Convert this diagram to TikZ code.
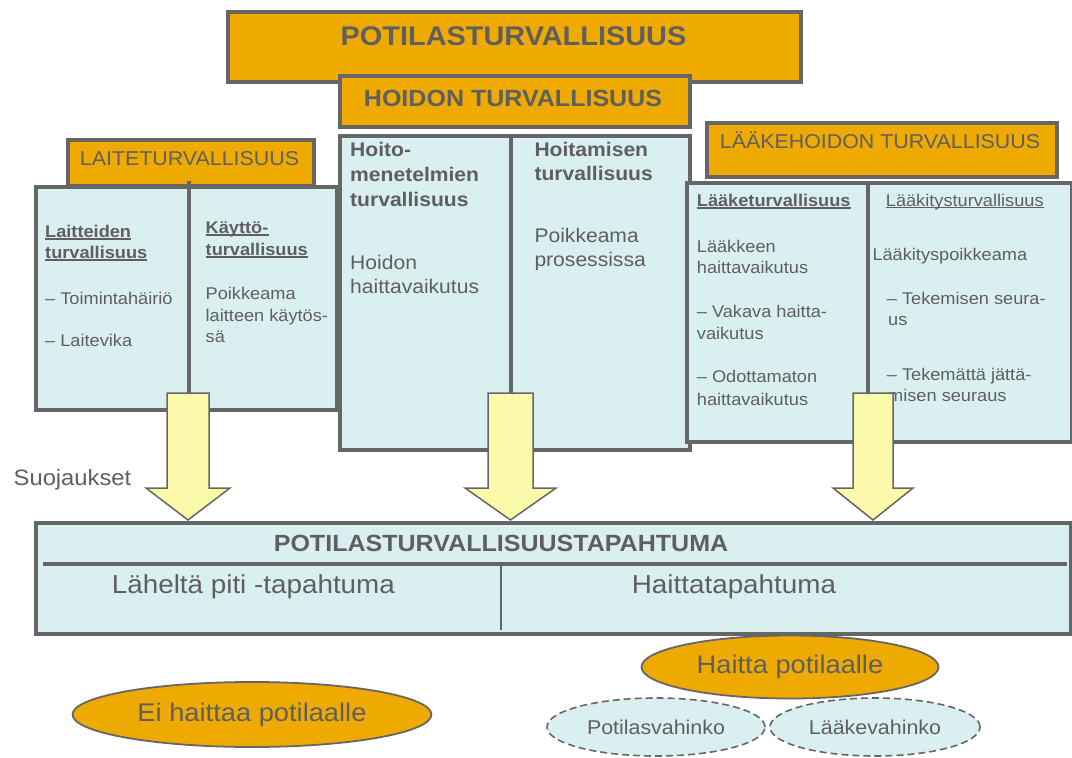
\documentclass[tikz,border=0pt]{standalone}
\usepackage{fontspec}
\setmainfont{Liberation Sans}[FakeStretch=1.07]
\usetikzlibrary{shapes.geometric}
\definecolor{myorange}{RGB}{238,170,0}
\definecolor{myblue}{RGB}{218,240,240}
\definecolor{myyellow}{RGB}{250,250,170}
\definecolor{bordergray}{RGB}{102,102,102}
\definecolor{textgray}{RGB}{95,95,95}
\newcommand\fsz[1]{\fontsize{#1}{#1}\selectfont}
\newcommand\barrow[3]{\draw[blockarrow] (#1) ++(-#2,0) -- ++({2*#2},0) -- ++(0,95) -- ++({#3-#2},0) -- ++(-#3,32) -- ++(-#3,-32) -- ++({#3-#2},0) -- cycle;}
\begin{document}
\begin{tikzpicture}[x=1pt,y=-1pt,
  obox/.style={draw=bordergray, line width=4pt, fill=myorange, inner sep=0, rectangle, anchor=north west},
  bbox/.style={draw=bordergray, line width=4pt, fill=myblue, inner sep=0, rectangle, anchor=north west},
  divider/.style={draw=bordergray, line width=4pt},
  txt/.style={inner sep=0, text=textgray, anchor=base west},
  ctxt/.style={inner sep=0, text=textgray, anchor=base},
  lb/.style={txt, font=\fsz{17}},
  lbb/.style={txt, font=\fsz{17}\bfseries},
  mb/.style={txt, font=\fsz{19.7}},
  mbb/.style={txt, font=\fsz{19.7}\bfseries},
  ul/.style={draw=textgray, line width=1.6pt},
  blockarrow/.style={draw=bordergray, line width=1.5pt, fill=myyellow, line join=miter},
  oell/.style={ellipse, draw=bordergray, line width=1.8pt, fill=myorange, inner sep=0, text=textgray, font=\fsz{25.5}},
  dell/.style={ellipse, draw=bordergray, line width=1.6pt, dash pattern=on 7pt off 4pt, fill=myblue, inner sep=0, text=textgray, font=\fsz{20}}
]
\useasboundingbox (0,0) rectangle (1072,758);
\fill[white] (0,0) rectangle (1072,758);

% top orange boxes
\node[obox, minimum width=573pt, minimum height=70pt] (potbox) at (226,10) {};
\node[ctxt, font=\fsz{27}\bfseries] (tpot) at (513.5,45) {POTILASTURVALLISUUS};
\node[obox, minimum width=350pt, minimum height=51pt] (hoibox) at (338,74) {};
\node[ctxt, font=\fsz{23.4}\bfseries] (thoi) at (513,106) {HOIDON TURVALLISUUS};
\node[obox, minimum width=246pt, minimum height=46pt] (laibox) at (66,138) {};
\node[ctxt, font=\fsz{20}] (tlai) at (189.5,165) {LAITETURVALLISUUS};

% left blue box
\node[bbox, minimum width=301pt, minimum height=223pt] (lbox) at (34,185) {};
\coordinate (ldivtop) at (189.3,181);
\coordinate (ldivbot) at (189.3,408);
\draw[divider] (ldivtop) -- (ldivbot);
\node[lbb] (l1) at (45,237) {Laitteiden};
\node[lbb] (l2) at (45,258) {turvallisuus};
\draw[ul] ([yshift=-2pt]l1.base west) -- ([yshift=-2pt]l1.base east);
\draw[ul] ([yshift=-2pt]l2.base west) -- ([yshift=-2pt]l2.base east);
\node[lb] (l3) at (45,304) {– Toimintahäiriö};
\node[lb] (l4) at (45,346.5) {– Laitevika};
\node[lbb] (l5) at (205.5,233) {Käyttö-};
\node[lbb] (l6) at (205.5,255) {turvallisuus};
\draw[ul] ([yshift=-2pt]l5.base west) -- ([yshift=-2pt]l5.base east);
\draw[ul] ([yshift=-2pt]l6.base west) -- ([yshift=-2pt]l6.base east);
\node[lb] (l7) at (205.5,299.3) {Poikkeama};
\node[lb] (l8) at (205.5,321) {laitteen käytös-};
\node[lb] (l9) at (205.5,342.7) {sä};

% middle blue box
\node[bbox, minimum width=350pt, minimum height=314pt] (mbox) at (338,134) {};
\coordinate (mdivtop) at (511,134);
\coordinate (mdivbot) at (511,448);
\draw[divider] (mdivtop) -- (mdivbot);
\node[mbb] (m1) at (350,156) {Hoito-};
\node[mbb] (m2) at (350,181.5) {menetelmien};
\node[mbb] (m3) at (350,206.7) {turvallisuus};
\node[mb] (m4) at (350,269) {Hoidon};
\node[mb] (m5) at (350,293.3) {haittavaikutus};
\node[mbb] (m6) at (534.3,156) {Hoitamisen};
\node[mbb] (m7) at (534.3,180.7) {turvallisuus};
\node[mb] (m8) at (534.3,242.7) {Poikkeama};
\node[mb] (m9) at (534.3,266.7) {prosessissa};

% right part
\node[obox, minimum width=350pt, minimum height=54pt] (laabox) at (705.3,121.3) {};
\node[ctxt, font=\fsz{20}] (tlaa) at (880,148) {LÄÄKEHOIDON TURVALLISUUS};
\node[bbox, minimum width=385pt, minimum height=259pt] (rbox) at (684.7,181) {};
\coordinate (rdivtop) at (868.3,181);
\coordinate (rdivbot) at (868.3,440);
\draw[divider] (rdivtop) -- (rdivbot);
\node[lbb] (r1) at (696.7,206) {Lääketurvallisuus};
\draw[ul] ([yshift=-2pt]r1.base west) -- ([yshift=-2pt]r1.base east);
\node[lb] (r2) at (696.7,252.7) {Lääkkeen};
\node[lb] (r3) at (696.7,273.3) {haittavaikutus};
\node[lb] (r4) at (696.7,317.3) {– Vakava haitta-};
\node[lb] (r5) at (696.7,339.3) {vaikutus};
\node[lb] (r6) at (696.7,382.7) {– Odottamaton};
\node[lb] (r7) at (696.7,405) {haittavaikutus};
\node[lb] (r8) at (885.7,206) {Lääkitysturvallisuus};
\draw[ul, line width=1.2pt] ([yshift=-1.5pt]r8.base west) -- ([yshift=-1.5pt]r8.base east);
\node[lb] (r9) at (872.3,260) {Lääkityspoikkeama};
\node[lb] (r10) at (886.7,304) {– Tekemisen seura-};
\node[lb] (r11) at (888,325) {us};
\node[lb] (r12) at (886.7,380.7) {– Tekemättä jättä-};
\node[lb] (r13) at (888,401.7) {misen seuraus};

% bottom event box
\node[bbox, minimum width=1035pt, minimum height=111pt] (ebox) at (34,521) {};
\coordinate (hl) at (43,564);
\coordinate (hr) at (1066.5,564);
\draw[draw=bordergray, line width=3.2pt] (hl) -- (hr);
\coordinate (vt) at (501,564);
\coordinate (vb) at (501,629.5);
\draw[draw=bordergray, line width=1.4pt] (vt) -- (vb);
\node[ctxt, font=\fsz{23.4}\bfseries] (etitle) at (501,551.5) {POTILASTURVALLISUUSTAPAHTUMA};
\node[txt, font=\fsz{26}] (e1) at (111.7,593.3) {Läheltä piti -tapahtuma};
\node[txt, font=\fsz{26}] (e2) at (631.7,593.3) {Haittatapahtuma};

% block arrows
\coordinate (a1) at (188,393);
\coordinate (a2) at (510.5,393);
\coordinate (a3) at (873,393);
\barrow{a1}{21}{42}
\barrow{a2}{22.5}{45.5}
\barrow{a3}{20}{40}

\node[txt, font=\fsz{22.2}] (suo) at (13.5,485) {Suojaukset};

% ellipses
\node[oell, minimum width=359pt, minimum height=65pt] (ei) at (252,714.5) {Ei haittaa potilaalle};
\node[oell, minimum width=297pt, minimum height=63pt] (haitta) at (790,667) {Haitta potilaalle};
\node[dell, minimum width=218pt, minimum height=58pt] (pv) at (656,727) {Potilasvahinko};
\node[dell, minimum width=210pt, minimum height=58pt] (lv) at (875,727) {Lääkevahinko};
\end{tikzpicture}
\end{document}
